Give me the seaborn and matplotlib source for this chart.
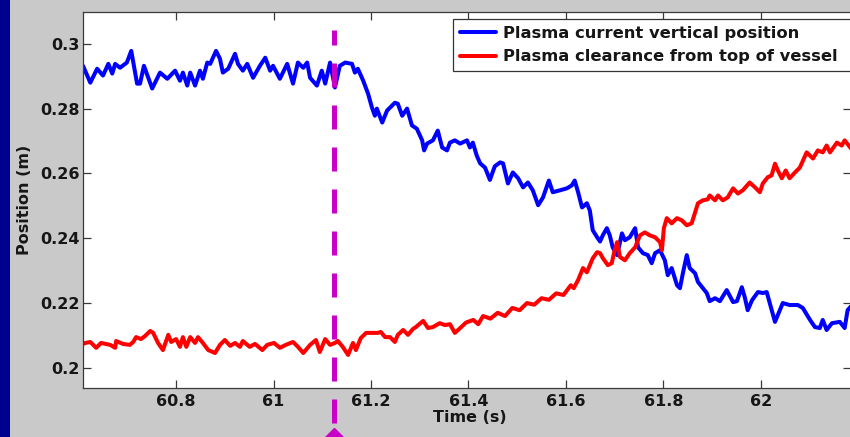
import numpy as np
import pandas as pd
import matplotlib
matplotlib.use("Agg")
import matplotlib.pyplot as plt
import matplotlib.transforms as mtransforms
from matplotlib.patches import Rectangle
from matplotlib.lines import Line2D
import seaborn as sns

# ---- measured traces -------------------------------------------------------
vertical_t = [
    60.609, 60.624, 60.638, 60.650, 60.661, 60.669, 60.675, 60.685, 60.699, 60.708,
    60.720, 60.726, 60.734, 60.751, 60.767, 60.782, 60.798, 60.808, 60.814, 60.823,
    60.829, 60.839, 60.849, 60.855, 60.864, 60.870, 60.882, 60.890, 60.896, 60.907,
    60.921, 60.927, 60.937, 60.946, 60.958, 60.972, 60.983, 60.993, 60.999, 61.013,
    61.028, 61.040, 61.050, 61.061, 61.069, 61.075, 61.089, 61.099, 61.106, 61.116,
    61.126, 61.136, 61.147, 61.161, 61.167, 61.173, 61.184, 61.194, 61.202, 61.208,
    61.212, 61.223, 61.233, 61.249, 61.255, 61.264, 61.274, 61.284, 61.294, 61.305,
    61.309, 61.315, 61.327, 61.337, 61.346, 61.356, 61.362, 61.372, 61.383, 61.397,
    61.403, 61.409, 61.417, 61.424, 61.434, 61.444, 61.454, 61.465, 61.471, 61.481,
    61.491, 61.502, 61.512, 61.522, 61.532, 61.543, 61.553, 61.565, 61.573, 61.588,
    61.602, 61.612, 61.618, 61.625, 61.633, 61.643, 61.649, 61.655, 61.664, 61.670,
    61.676, 61.684, 61.690, 61.696, 61.705, 61.715, 61.721, 61.731, 61.742, 61.748,
    61.758, 61.768, 61.776, 61.783, 61.793, 61.803, 61.809, 61.817, 61.828, 61.834,
    61.840, 61.848, 61.854, 61.865, 61.871, 61.881, 61.889, 61.895, 61.906, 61.916,
    61.930, 61.943, 61.951, 61.961, 61.967, 61.973, 61.982, 61.994, 62.004, 62.012,
    62.029, 62.045, 62.059, 62.076, 62.086, 62.101, 62.111, 62.121, 62.127, 62.135,
    62.146, 62.162, 62.172, 62.178, 62.185,
]
vertical_z = [
    0.2932, 0.2880, 0.2923, 0.2902, 0.2938, 0.2908, 0.2938, 0.2926, 0.2942, 0.2978,
    0.2877, 0.2877, 0.2932, 0.2862, 0.2911, 0.2892, 0.2917, 0.2886, 0.2911, 0.2871,
    0.2911, 0.2871, 0.2917, 0.2892, 0.2942, 0.2938, 0.2978, 0.2954, 0.2911, 0.2923,
    0.2969, 0.2938, 0.2917, 0.2938, 0.2895, 0.2932, 0.2957, 0.2917, 0.2932, 0.2892,
    0.2938, 0.2877, 0.2942, 0.2926, 0.2942, 0.2895, 0.2871, 0.2917, 0.2877, 0.2942,
    0.2865, 0.2932, 0.2942, 0.2938, 0.2911, 0.2923, 0.2886, 0.2846, 0.2803, 0.2778,
    0.2800, 0.2757, 0.2794, 0.2818, 0.2815, 0.2778, 0.2800, 0.2748, 0.2738, 0.2702,
    0.2671, 0.2692, 0.2702, 0.2732, 0.2680, 0.2671, 0.2695, 0.2702, 0.2692, 0.2702,
    0.2680, 0.2695, 0.2655, 0.2631, 0.2618, 0.2580, 0.2622, 0.2634, 0.2631, 0.2569,
    0.2603, 0.2585, 0.2557, 0.2572, 0.2548, 0.2502, 0.2526, 0.2578, 0.2542, 0.2548,
    0.2554, 0.2563, 0.2578, 0.2542, 0.2495, 0.2508, 0.2486, 0.2425, 0.2403, 0.2390,
    0.2410, 0.2431, 0.2409, 0.2372, 0.2348, 0.2415, 0.2394, 0.2403, 0.2431, 0.2372,
    0.2354, 0.2348, 0.2323, 0.2354, 0.2363, 0.2332, 0.2286, 0.2308, 0.2255, 0.2246,
    0.2292, 0.2348, 0.2308, 0.2292, 0.2265, 0.2246, 0.2231, 0.2206, 0.2215, 0.2206,
    0.2240, 0.2203, 0.2206, 0.2249, 0.2218, 0.2178, 0.2209, 0.2234, 0.2231, 0.2234,
    0.2142, 0.2200, 0.2194, 0.2194, 0.2185, 0.2148, 0.2126, 0.2123, 0.2148, 0.2117,
    0.2138, 0.2142, 0.2123, 0.2178, 0.2190,
]

clearance_t = [
    60.609, 60.614, 60.624, 60.636, 60.646, 60.665, 60.675, 60.677, 60.691, 60.705,
    60.712, 60.718, 60.728, 60.736, 60.747, 60.753, 60.763, 60.773, 60.784, 60.790,
    60.800, 60.808, 60.814, 60.821, 60.829, 60.839, 60.845, 60.855, 60.866, 60.880,
    60.890, 60.900, 60.911, 60.921, 60.931, 60.937, 60.951, 60.962, 60.977, 60.987,
    61.001, 61.013, 61.025, 61.040, 61.050, 61.061, 61.075, 61.087, 61.095, 61.106,
    61.116, 61.126, 61.132, 61.142, 61.153, 61.163, 61.169, 61.179, 61.190, 61.204,
    61.214, 61.220, 61.229, 61.239, 61.249, 61.255, 61.266, 61.276, 61.286, 61.292,
    61.307, 61.317, 61.327, 61.341, 61.352, 61.362, 61.372, 61.383, 61.395, 61.410,
    61.420, 61.430, 61.445, 61.460, 61.475, 61.490, 61.505, 61.520, 61.535, 61.550,
    61.565, 61.580, 61.595, 61.610, 61.616, 61.625, 61.635, 61.643, 61.655, 61.664,
    61.670, 61.676, 61.686, 61.694, 61.700, 61.705, 61.711, 61.721, 61.731, 61.742,
    61.752, 61.762, 61.772, 61.783, 61.793, 61.797, 61.801, 61.807, 61.817, 61.828,
    61.838, 61.848, 61.858, 61.865, 61.871, 61.881, 61.891, 61.895, 61.906, 61.912,
    61.922, 61.932, 61.943, 61.953, 61.963, 61.977, 61.988, 61.998, 62.004, 62.014,
    62.022, 62.029, 62.035, 62.043, 62.051, 62.059, 62.070, 62.080, 62.094, 62.107,
    62.117, 62.127, 62.135, 62.142, 62.156, 62.166, 62.172, 62.185,
]
clearance_z = [
    0.2074, 0.2077, 0.2080, 0.2062, 0.2077, 0.2071, 0.2062, 0.2083, 0.2074, 0.2071,
    0.2080, 0.2095, 0.2089, 0.2098, 0.2114, 0.2108, 0.2077, 0.2055, 0.2102, 0.2080,
    0.2089, 0.2065, 0.2095, 0.2065, 0.2095, 0.2077, 0.2095, 0.2077, 0.2055, 0.2046,
    0.2071, 0.2086, 0.2068, 0.2077, 0.2065, 0.2083, 0.2065, 0.2074, 0.2055, 0.2071,
    0.2077, 0.2062, 0.2071, 0.2080, 0.2065, 0.2046, 0.2071, 0.2086, 0.2049, 0.2089,
    0.2071, 0.2077, 0.2083, 0.2065, 0.2040, 0.2077, 0.2055, 0.2092, 0.2108, 0.2108,
    0.2108, 0.2111, 0.2095, 0.2095, 0.2080, 0.2102, 0.2117, 0.2102, 0.2120, 0.2126,
    0.2145, 0.2123, 0.2126, 0.2138, 0.2132, 0.2135, 0.2108, 0.2123, 0.2140, 0.2148,
    0.2135, 0.2160, 0.2152, 0.2170, 0.2160, 0.2185, 0.2178, 0.2200, 0.2195, 0.2215,
    0.2210, 0.2230, 0.2225, 0.2255, 0.2246, 0.2271, 0.2308, 0.2295, 0.2338, 0.2357,
    0.2354, 0.2338, 0.2317, 0.2323, 0.2363, 0.2388, 0.2342, 0.2332, 0.2354, 0.2372,
    0.2409, 0.2418, 0.2409, 0.2403, 0.2388, 0.2363, 0.2431, 0.2462, 0.2446, 0.2462,
    0.2455, 0.2440, 0.2446, 0.2480, 0.2508, 0.2517, 0.2520, 0.2532, 0.2517, 0.2532,
    0.2517, 0.2526, 0.2554, 0.2538, 0.2548, 0.2572, 0.2557, 0.2542, 0.2569, 0.2588,
    0.2594, 0.2630, 0.2609, 0.2585, 0.2609, 0.2585, 0.2603, 0.2618, 0.2665, 0.2646,
    0.2671, 0.2665, 0.2686, 0.2665, 0.2695, 0.2686, 0.2702, 0.2677,
]

series_names = ["Plasma current vertical position", "Plasma clearance from top of vessel"]
series_colors = ["#0000ff", "#ff0000"]

# event marker: time and the height where its dashed line starts
event_time = 61.124
event_top = 0.3043

x_ticks = [60.8, 61.0, 61.2, 61.4, 61.6, 61.8, 62.0]
x_tick_labels = ["60.8", "61", "61.2", "61.4", "61.6", "61.8", "62"]
y_ticks = [0.20, 0.22, 0.24, 0.26, 0.28, 0.30]
y_tick_labels = ["0.2", "0.22", "0.24", "0.26", "0.28", "0.3"]

# ---- styling -----------------------------------------------------------------
sns.set_style("ticks")
plt.rcParams["font.family"] = ["DejaVu Sans"]
plt.rcParams["font.weight"] = "bold"
plt.rcParams["axes.labelweight"] = "bold"

FS = 11.5
FS_LEG = 11.8
text_color = "#161616"
fig_bg = "#c9c9c9"
magenta = "#c800c8"

W, H = 850, 437
fig = plt.figure(figsize=(W / 100, H / 100), dpi=100, facecolor=fig_bg)
ax_left, ax_right, ax_top, ax_bottom = 83, 851, 12, 388
ax = fig.add_axes([ax_left / W, (H - ax_bottom) / H,
                   (ax_right - ax_left) / W, (ax_bottom - ax_top) / H])
ax.set_facecolor("white")

# dark slide border along the left edge
fig.patches.append(Rectangle((0, 0), 10 / W, 1, transform=fig.transFigure,
                             facecolor="#00008e", edgecolor="none", zorder=0))

df = pd.concat([
    pd.DataFrame({"t": vertical_t, "z": vertical_z, "series": series_names[0]}),
    pd.DataFrame({"t": clearance_t, "z": clearance_z, "series": series_names[1]}),
], ignore_index=True)

sns.lineplot(data=df, x="t", y="z", hue="series", hue_order=series_names,
             palette=dict(zip(series_names, series_colors)), estimator=None,
             sort=False, linewidth=2.9, legend=False, ax=ax)

ax.set_xlim(60.609, 62.185)
ax.set_ylim(0.1938, 0.3098)

# dashed event line running down past the axis, ending in a diamond
trans = mtransforms.blended_transform_factory(ax.transData, ax.transAxes)
bottom_frac = -(H - ax_bottom) / (ax_bottom - ax_top)
top_frac = (event_top - 0.1938) / (0.3098 - 0.1938)
lw_evt = 3.6
ax.plot([event_time, event_time], [top_frac, bottom_frac], transform=trans,
        color=magenta, lw=lw_evt, linestyle=(1.8, (4.8, 3.6)),
        clip_on=False, zorder=5, solid_capstyle="butt", dash_capstyle="butt")
ax.plot([event_time], [bottom_frac], transform=trans, marker="D", ms=9.5,
        color=magenta, clip_on=False, zorder=6, linestyle="none")

ax.set_xticks(x_ticks)
ax.set_xticklabels(x_tick_labels)
ax.set_yticks(y_ticks)
ax.set_yticklabels(y_tick_labels)

ax.tick_params(direction="in", length=6, width=0.9, color="#3a3a3a",
               top=True, right=True, labelsize=FS, labelcolor=text_color)
ax.tick_params(axis="x", pad=4.5)
ax.tick_params(axis="y", pad=2.5)
for s in ax.spines.values():
    s.set_color("#3a3a3a")
    s.set_linewidth(0.9)
    s.set_visible(True)

ax.set_xlabel("Time (s)", fontsize=FS, color=text_color, fontweight="bold")
ax.set_ylabel("Position (m)", fontsize=FS, color=text_color, fontweight="bold")
ax.xaxis.set_label_coords(0.504, -0.058)
ax.yaxis.set_label_coords(-0.066, 0.5)

# legend box starts inside the axes and runs past the right edge of the figure
span = ax_right - ax_left
leg_x0 = (453 - ax_left) / span
leg_x1 = (866 - ax_left) / span
leg_top = (ax_bottom - 19) / (ax_bottom - ax_top)
handles = [Line2D([], [], color=c, lw=2.9) for c in series_colors]
leg = ax.legend(handles, series_names, loc="upper left",
                bbox_to_anchor=(leg_x0, 0.0, leg_x1 - leg_x0, leg_top),
                mode="expand", borderaxespad=0, frameon=True, fancybox=False,
                framealpha=1, edgecolor="#333333", facecolor="white",
                handlelength=2.2, handletextpad=0.42, borderpad=0.42,
                labelspacing=0.52, prop={"weight": "bold", "size": FS_LEG})
leg.get_frame().set_linewidth(0.9)
for t in leg.get_texts():
    t.set_color(text_color)

fig.savefig("out.png", dpi=100, facecolor=fig_bg)
